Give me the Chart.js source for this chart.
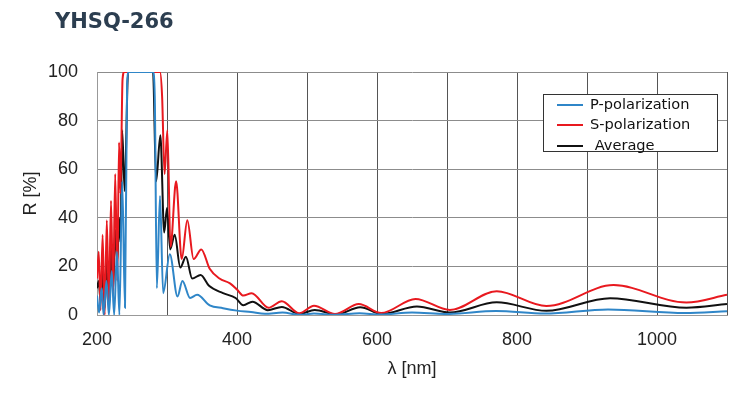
<!DOCTYPE html>
<html>
<head>
<meta charset="utf-8">
<script src="https://cdn.jsdelivr.net/npm/chart.js@4"></script>
<style>
  body { margin: 0; background: #fff; }
  #wrap { position: relative; width: 750px; height: 395px; }
  #chart { position: absolute; left: 0; top: 0; }
  #title {
    position: absolute; left: 55px; top: 9px;
    font: bold 21px "DejaVu Sans", Verdana, sans-serif; color: #2c3e50;
  }
  #legend {
    position: absolute; left: 543px; top: 94px; width: 175px; height: 58px;
    border: 1px solid #333; background: #fff; box-sizing: border-box;
    font: 14.6px "DejaVu Sans", sans-serif; color: #111;
  }
  .row { position: absolute; left: 13px; height: 20px; line-height: 20px; white-space: nowrap; }
  .row i { display: inline-block; width: 26px; height: 2px; vertical-align: middle; margin-right: 7px; }
</style>
</head>
<body>
<div id="wrap">
  <canvas id="chart" width="750" height="395"></canvas>
  <div id="title">YHSQ-266</div>
  <div id="legend">
    <div class="row" style="top:-1px"><i style="background:#2f86c8"></i>P-polarization</div>
    <div class="row" style="top:19px"><i style="background:#e8191f"></i>S-polarization</div>
    <div class="row" style="top:40px"><i style="background:#111"></i>&nbsp;Average</div>
  </div>
</div>
<script>
// wavelength [nm] / reflectance [%]
const pWl = [200, 203, 206.5, 209.5, 213.5, 217, 221, 224.5, 228.5, 232, 236, 240, 243, 245.5, 280, 282.5, 285.5, 290, 294.5, 304, 315, 322, 333, 343, 361, 380, 400, 420, 440, 465, 490, 510, 540, 575, 605, 650, 700, 770, 840, 930, 1040, 1100];
const pR  = [8, 1, 11, 0, 14, 0, 18, 0, 26, 0, 55, 3, 95, 100, 100, 90, 11, 49, 9, 25, 7.6, 14, 7, 8.3, 4, 2.8, 1.8, 1.2, 0.5, 1.0, 0.1, 0.6, 0.1, 0.7, 0.2, 1.0, 0.4, 1.6, 0.6, 2.3, 0.8, 1.5];

const sWl = [200, 202.5, 205, 208, 211, 214, 217, 220, 223, 226, 229, 231.5, 233.5, 236.5, 239, 290, 293, 296.5, 300.5, 305, 313, 321, 329, 338, 349, 361, 375, 390, 400, 409, 421, 445, 464, 489, 510, 540, 574, 606, 655, 704, 771, 842, 938, 1042, 1100];
const sR  = [15, 26, 2, 33, 0, 39, 4, 47, 8, 58, 14, 71, 50, 97, 100, 100, 90, 58, 76, 28, 55, 23, 39, 23, 27, 19, 15, 13, 10.5, 8, 9, 3, 5.7, 0.7, 3.8, 0.4, 4.5, 0.8, 6.6, 2.1, 9.8, 3.7, 12.3, 5.1, 8.3];

const aWl = [200, 202.5, 205, 208, 211, 214, 217, 220, 223, 226, 229, 231.5, 233.5, 236, 239.5, 244.5, 280, 284.5, 290.5, 296, 300, 304.5, 311, 319, 327, 336, 348, 360, 380, 398, 409, 422, 444, 464, 489, 511, 542, 576, 607, 657, 704, 771, 842, 933, 1042, 1100];
const aR  = [11, 14, 6, 18, 3, 22, 6, 28, 10, 35, 22, 40, 30, 76, 51, 100, 100, 55, 74, 34, 44, 27, 33, 19.5, 24, 15, 16.5, 12, 9, 7, 4, 5.5, 2, 3.3, 0.4, 2.1, 0.2, 3.2, 0.4, 3.5, 1, 5.2, 1.7, 6.9, 3, 4.5];

const yTicks = [0, 20, 40, 60, 80, 100];
const xLabels = [200, 400, 600, 800, 1000];

const pts = (xs, ys) => xs.map((x, i) => ({ x: x, y: ys[i] }));

const tickFont = { family: "'Liberation Sans', Arial, sans-serif", size: 18 };

function line(data, color) {
    return {
        data: data,
        borderColor: color,
        borderWidth: 2,
        pointRadius: 0,
        fill: false,
        cubicInterpolationMode: "monotone"
    };
}

// first dataset is drawn on top: blue, then red, black underneath
new Chart(document.getElementById("chart"), {
    type: "line",
    data: {
        datasets: [
            line(pts(pWl, pR), "#2f86c8"),
            line(pts(sWl, sR), "#e8191f"),
            line(pts(aWl, aR), "#111111")
        ]
    },
    options: {
        responsive: false,
        animation: false,
        devicePixelRatio: 1,
        layout: { padding: { left: 0, top: 72, right: 23, bottom: 0 } },
        plugins: { legend: { display: false }, tooltip: { enabled: false } },
        scales: {
            x: {
                type: "linear",
                min: 200,
                max: 1100,
                afterFit: s => { s.height = 80; },
                grid: { color: "#555", lineWidth: 1, drawTicks: false },
                border: { color: "#999" },
                ticks: {
                    stepSize: 100,
                    padding: 14,
                    color: "#222",
                    font: tickFont,
                    maxRotation: 0,
                    autoSkip: false,
                    callback: v => xLabels.includes(v) ? String(v) : ""
                },
                title: {
                    display: true,
                    text: "λ [nm]",
                    color: "#222",
                    font: tickFont,
                    padding: { top: 0, bottom: 15 }
                }
            },
            y: {
                min: 0,
                max: 100,
                afterFit: s => { s.width = 97; },
                afterBuildTicks: s => { s.ticks = yTicks.map(v => ({ value: v })); },
                grid: { color: "#8c8c8c", lineWidth: 1, drawTicks: false },
                border: { color: "#999" },
                ticks: { padding: 19, color: "#222", font: tickFont },
                title: {
                    display: true,
                    text: "R [%]",
                    color: "#222",
                    font: tickFont,
                    padding: { top: 20, bottom: 0 }
                }
            }
        }
    }
});
</script>
</body>
</html>
